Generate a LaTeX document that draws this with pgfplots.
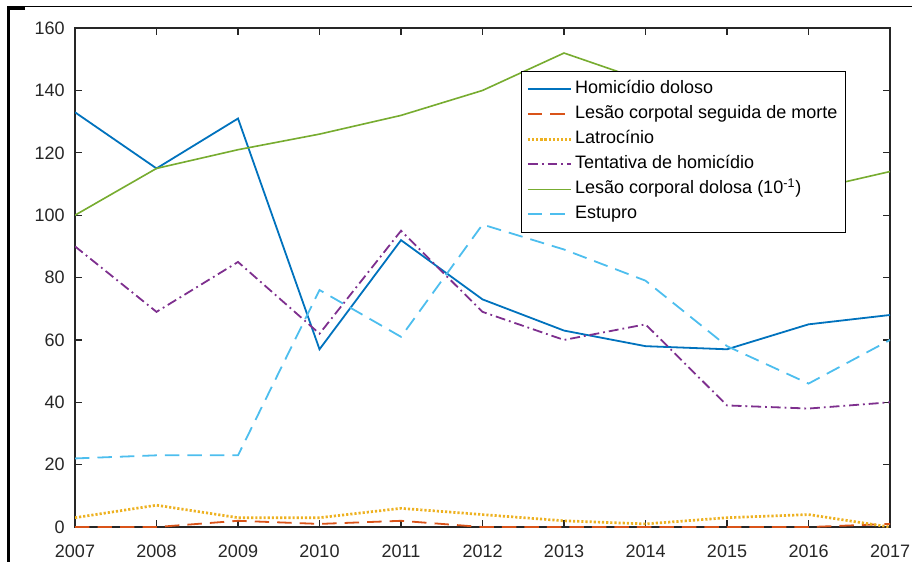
\documentclass[border=0pt]{standalone}
\usepackage{pgfplots}
\pgfplotsset{compat=1.18}
\usepackage{fontspec}
\setmainfont{Liberation Sans}

% MATLAB default line colours
\definecolor{mblue}{RGB}{0,114,189}
\definecolor{morange}{RGB}{217,83,25}
\definecolor{myellow}{RGB}{237,177,32}
\definecolor{mpurple}{RGB}{126,47,142}
\definecolor{mgreen}{RGB}{119,172,48}
\definecolor{mcyan}{RGB}{77,190,238}
\definecolor{axgray}{RGB}{38,38,38}

\begin{document}
\begin{tikzpicture}
\useasboundingbox (-41.67pt,-18.9pt) rectangle (465pt,292.8pt);
\begin{axis}[
  scale only axis,
  width=452.8pt, height=277.2pt,
  xmin=2007, xmax=2017, ymin=0, ymax=160,
  xtick={2007,2008,...,2017},
  ytick={0,20,...,160},
  tick align=inside,
  major tick length=3.9pt,
  axis line style={draw=axgray, line width=0.7pt},
  every tick/.style={draw=axgray, line width=0.7pt},
  tick label style={font=\fontsize{10}{12}\selectfont, text=axgray},
  /pgf/number format/.cd, 1000 sep={}, assume math mode=true, /pgfplots/.cd,
  xticklabel shift=6.4pt,
  yticklabel shift=2.2pt,
  legend style={
    at={(0.547,0.914)}, anchor=north west,
    draw=black, fill=white,
    font=\fontsize{10}{12}\selectfont,
    inner xsep=3pt, inner ysep=3pt,
    row sep=0pt,
    nodes={inner sep=1.5pt, text height=8pt, text depth=2.9pt},
  },
  legend cell align=left,
  legend image code/.code={\draw[#1] (0pt,0pt) -- (24pt,0pt);},
]
% Homicídio doloso
\addplot[mblue, line width=1pt] coordinates {
  (2007,133) (2008,115) (2009,131) (2010,57) (2011,92) (2012,73)
  (2013,63) (2014,58) (2015,57) (2016,65) (2017,68)};
\addlegendentry{Homicídio doloso}
% Lesão corporal seguida de morte
\addplot[morange, line width=1pt, dash pattern=on 8pt off 4.5pt] coordinates {
  (2007,0) (2008,0) (2009,2) (2010,1) (2011,2) (2012,0)
  (2013,0) (2014,0) (2015,0) (2016,0) (2017,1)};
\addlegendentry{Lesão corpotal seguida de morte}
% Latrocínio
\addplot[myellow, line width=1.5pt, dash pattern=on 1.2pt off 1.1pt] coordinates {
  (2007,3) (2008,7) (2009,3) (2010,3) (2011,6) (2012,4)
  (2013,2) (2014,1) (2015,3) (2016,4) (2017,0)};
\addlegendentry{Latrocínio}
% Tentativa de homicídio
\addplot[mpurple, line width=1pt, dash pattern=on 5.5pt off 2.2pt on 1pt off 2.2pt] coordinates {
  (2007,90) (2008,69) (2009,85) (2010,62) (2011,95) (2012,69)
  (2013,60) (2014,65) (2015,39) (2016,38) (2017,40)};
\addlegendentry{Tentativa de homicídio}
% Lesão corporal dolosa (x 0.1)
\addplot[mgreen, line width=0.9pt] coordinates {
  (2007,100) (2008,115) (2009,121) (2010,126) (2011,132) (2012,140)
  (2013,152) (2014,143) (2015,125) (2016,108) (2017,114)};
\addlegendentry{Lesão corporal dolosa (10\textsuperscript{-1})}
% Estupro
\addplot[mcyan, line width=1pt, dash pattern=on 8pt off 4.5pt] coordinates {
  (2007,22) (2008,23) (2009,23) (2010,76) (2011,61) (2012,97)
  (2013,89) (2014,79) (2015,58) (2016,46) (2017,60)};
\addlegendentry{Estupro}
\end{axis}
% outer frame
\draw[black, line width=1.5pt] (-36.9pt,-20pt) -- (-36.9pt,289.6pt);
\draw[black, line width=0.75pt] (-37.6pt,289.2pt) -- (466pt,289.2pt);
\fill[black] (-37.6pt,289.6pt) rectangle (-28pt,287.5pt);
\end{tikzpicture}
\end{document}
